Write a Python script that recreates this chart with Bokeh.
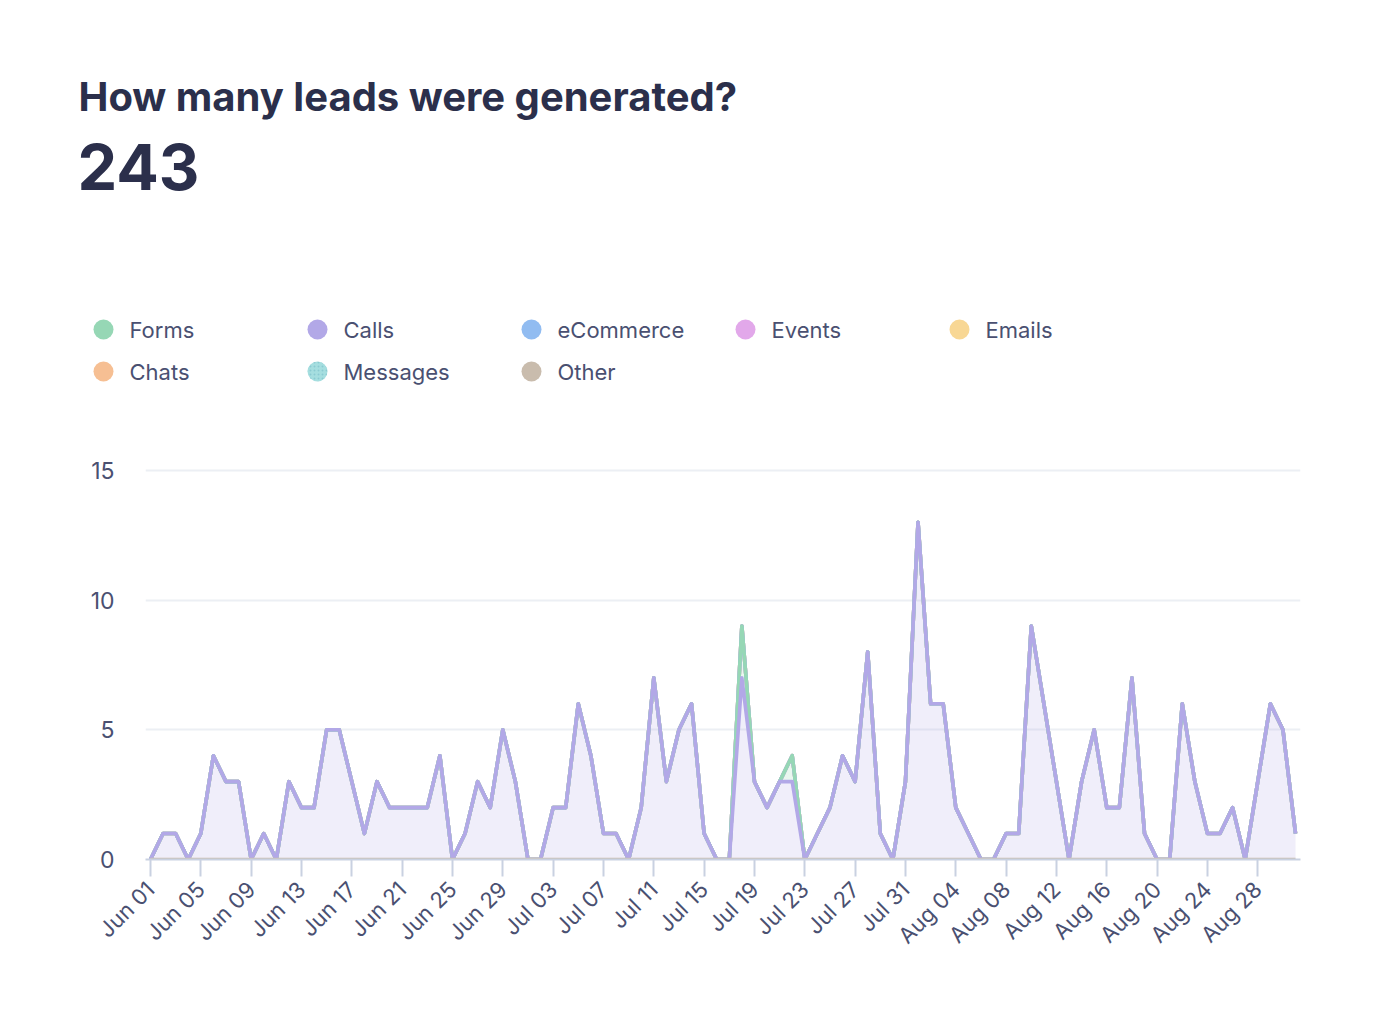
import math
import numpy as np
import pandas as pd
from bokeh.plotting import figure
from bokeh.layouts import column
from bokeh.models import Range1d, FixedTicker, DatetimeTickFormatter, ColumnDataSource
from bokeh.core.properties import value
from bokeh.embed import file_html
from bokeh.resources import INLINE

# ---------------- data ----------------
title_text = "How many leads were generated?"
dates = pd.date_range("2024-06-01", "2024-08-31", freq="D")

calls = [0, 1, 1, 0, 1, 4, 3, 3, 0, 1,
         0, 3, 2, 2, 5, 5, 3, 1, 3, 2,
         2, 2, 2, 4, 0, 1, 3, 2, 5, 3,
         0, 0, 2, 2, 6, 4, 1, 1, 0, 2,
         7, 3, 5, 6, 1, 0, 0, 7, 3, 2,
         3, 3, 0, 1, 2, 4, 3, 8, 1, 0,
         3, 13, 6, 6, 2, 1, 0, 0, 1, 1,
         9, 6, 3, 0, 3, 5, 2, 2, 7, 1,
         0, 0, 6, 3, 1, 1, 2, 0, 3, 6, 5, 1]
forms = [0] * 92
forms[47] = 2
forms[51] = 1
ecommerce = [0] * 92
events = [0] * 92
emails = [0] * 92
chats = [0] * 92
messages = [0] * 92
other = [0] * 92

legend_names = ["Forms", "Calls", "eCommerce", "Events", "Emails", "Chats", "Messages", "Other"]
legend_colors = ["#96d7b5", "#b2a8e7", "#91bcf1", "#e2a8ea", "#f8d794", "#f6bf93", "#a5dedf", "#c9bcad"]

series = {"Forms": forms, "Calls": calls, "eCommerce": ecommerce, "Events": events,
          "Emails": emails, "Chats": chats, "Messages": messages, "Other": other}
stack_order = ["Other", "Calls", "Forms", "eCommerce", "Events", "Emails", "Chats", "Messages"]
color_of = dict(zip(legend_names, legend_colors))

y_ticks = [0, 5, 10, 15]

TEXT_DARK = "#2b2f4b"
TEXT_MID = "#4a5071"
W = 1340
HDR_H = 430

# ---------------- header (title, total, legend) ----------------
hdr = figure(width=W, height=HDR_H, x_range=Range1d(0, W), y_range=Range1d(HDR_H, 0),
             output_backend="svg", toolbar_location=None,
             x_axis_location=None, y_axis_location=None, min_border=0)
hdr.frame_align = False
hdr.grid.visible = False
hdr.outline_line_color = None

total = int(sum(sum(v) for v in series.values()))
hdr.text(x=[78], y=[95.5], text=[title_text], text_font=value("Inter"), text_font_style="bold",
         text_font_size="40px", text_color=TEXT_DARK, text_baseline="middle")
hdr.text(x=[77], y=[166], text=[str(total)], text_font=value("Inter"), text_font_style="bold",
         text_font_size="63px", text_color=TEXT_DARK, text_baseline="middle")

cols = [i % 5 for i in range(len(legend_names))]
rows = [i // 5 for i in range(len(legend_names))]
lx = [103 + 214 * c for c in cols]
ly = [329 + 42 * r for r in rows]
leg = ColumnDataSource(dict(x=lx, y=ly, tx=[v + 26 for v in lx], name=legend_names, color=legend_colors,
                            hatch=["blank"] * 6 + ["dot"] + ["blank"]))
hdr.scatter(x="x", y="y", size=20, fill_color="color", line_color=None, source=leg,
            hatch_pattern="hatch", hatch_color="#7fc3cc", hatch_scale=4, hatch_alpha=0.7)
hdr.text(x="tx", y="y", text="name", source=leg, text_font=value("Inter"), text_font_size="22px",
         text_color=TEXT_MID, text_baseline="middle")

# ---------------- chart ----------------
pad = pd.Timedelta(hours=9.5)
p = figure(width=W, height=570, x_axis_type="datetime",
           x_range=Range1d(dates[0] - pad, dates[-1] + pad), y_range=Range1d(0, 15.3),
           output_backend="svg", toolbar_location=None,
           min_border_left=145, min_border_right=40, min_border_top=32, min_border_bottom=141)
p.frame_align = False
p.outline_line_color = None
p.background_fill_color = "white"

data = {"date": dates}
cum = np.zeros(len(dates))
for name in stack_order:
    lo = cum.copy()
    cum = cum + np.array(series[name], dtype=float)
    data[name + "_lo"] = lo
    data[name + "_hi"] = cum.copy()
src = ColumnDataSource(data)

for name in stack_order:
    p.varea(x="date", y1=name + "_lo", y2=name + "_hi", source=src,
            fill_color=color_of[name], fill_alpha=0.2)
for name in reversed(stack_order):
    p.line(x="date", y=name + "_hi", source=src, line_color=color_of[name],
           line_width=3.6, line_join="round")

# grid
p.xgrid.visible = False
p.ygrid.ticker = FixedTicker(ticks=y_ticks)
p.ygrid.grid_line_color = "#eceff4"
p.ygrid.grid_line_width = 2

# y axis
p.yaxis.ticker = FixedTicker(ticks=y_ticks)
p.yaxis.axis_line_color = None
p.yaxis.major_tick_line_color = None
p.yaxis.minor_tick_line_color = None
p.yaxis.major_tick_out = 0
p.yaxis.major_tick_in = 0
p.yaxis.major_label_standoff = 31
p.yaxis.major_label_text_font = "Inter"
p.yaxis.major_label_text_font_size = "23px"
p.yaxis.major_label_text_color = TEXT_MID

# x axis
tick_ms = list(dates[::4].values.astype("datetime64[ms]").astype("int64"))
p.xaxis.ticker = FixedTicker(ticks=tick_ms)
p.xaxis.formatter = DatetimeTickFormatter(days="%b %d", months="%b %d", hours="%b %d",
                                          years="%b %d")
p.xaxis.axis_line_color = "#c9d1e1"
p.xaxis.axis_line_width = 2
p.xaxis.major_tick_line_color = "#c9d1e1"
p.xaxis.major_tick_line_width = 2
p.xaxis.major_tick_out = 17
p.xaxis.major_tick_in = 0
p.xaxis.minor_tick_line_color = None
p.xaxis.major_label_orientation = math.pi / 4
p.xaxis.major_label_standoff = 9
p.xaxis.major_label_text_font = "Inter"
p.xaxis.major_label_text_font_size = "22px"
p.xaxis.major_label_text_color = TEXT_MID

layout = column(hdr, p)
open("out.html", "w").write(file_html(layout, INLINE))
